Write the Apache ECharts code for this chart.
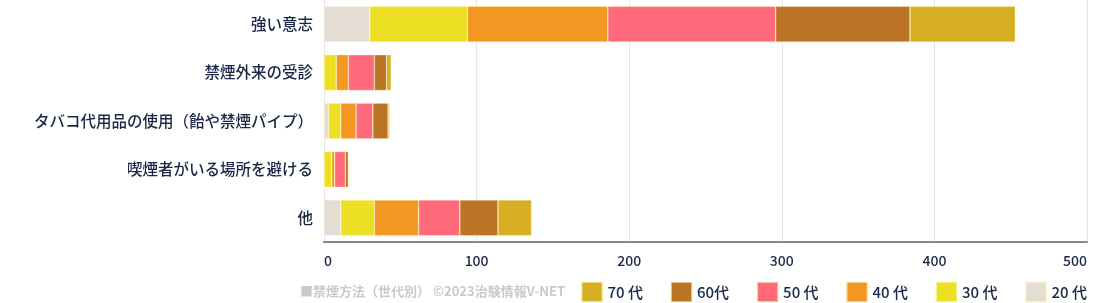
<!DOCTYPE html>
<html><head><meta charset="utf-8">
<script src="https://cdn.jsdelivr.net/npm/echarts@6/dist/echarts.min.js"></script>
<style>html,body{margin:0;padding:0;background:#fff}#c{width:1113px;height:303px}</style>
</head><body><div id="c"></div>
<script>
const categories = ['強い意志','禁煙外来の受診','タバコ代用品の使用（飴や禁煙パイプ）','喫煙者がいる場所を避ける','他'];
const seriesNames = ['20 代','30 代','40 代','50 代','60代','70 代'];
const v20 = [30, 0, 3, 0, 11];
const v30 = [64, 8, 8, 5, 22];
const v40 = [92, 8, 10, 2, 29];
const v50 = [110, 17, 11, 7, 27];
const v60 = [88, 8, 10, 2, 25];
const v70 = [69, 3, 1, 0, 22];
const xTicks = [0, 100, 200, 300, 400, 500];
const sourceText = '■禁煙方法（世代別） ©2023治験情報V-NET';

const values = [v20, v30, v40, v50, v60, v70];
const colors = ['#e3ddd3','#ede024','#f19722','#ff6a7b','#bb7325','#d6af22'];
const font = "'Noto Sans CJK JP','Noto Sans',sans-serif";
const chart = echarts.init(document.getElementById('c'), null, {renderer:'canvas'});
chart.setOption({
  animation:false,
  textStyle:{fontFamily:font},
  grid:{left:324, right:26, top:0, bottom:61, containLabel:false},
  legend:{
    data: seriesNames.slice().reverse(),
    right:26, top:281, padding:0, icon:'rect', itemWidth:21, itemHeight:20, itemGap:27,
    textStyle:{fontSize:15, color:'#1a2746', fontFamily:font, fontWeight:500}
  },
  graphic:[{type:'text', left:300, top:285, style:{text:sourceText, fill:'#c9c9c9', font:"bold 13px 'Noto Sans CJK JP'"}}],
  xAxis:{
    type:'value', min:xTicks[0], max:xTicks[xTicks.length-1], interval:100,
    axisLine:{show:true, lineStyle:{color:'#888', width:2}},
    axisTick:{show:false},
    splitLine:{lineStyle:{color:'#e6e6e6'}},
    axisLabel:{fontSize:14, color:'#1a2746', fontWeight:500, margin:12, alignMinLabel:'left', alignMaxLabel:'right'}
  },
  yAxis:{
    type:'category', data:categories, inverse:true,
    axisLine:{show:true, lineStyle:{color:'#e6e6e6'}},
    axisTick:{show:false},
    axisLabel:{fontSize:15.5, color:'#1a2746', fontWeight:500, margin:11}
  },
  series: seriesNames.map((n,i)=>({
    name:n, type:'bar', stack:'a', data:values[i], barCategoryGap:'26%',
    itemStyle:{color:colors[i], borderColor:'rgba(255,250,200,0.6)', borderWidth:0.6}
  }))
});
</script></body></html>
